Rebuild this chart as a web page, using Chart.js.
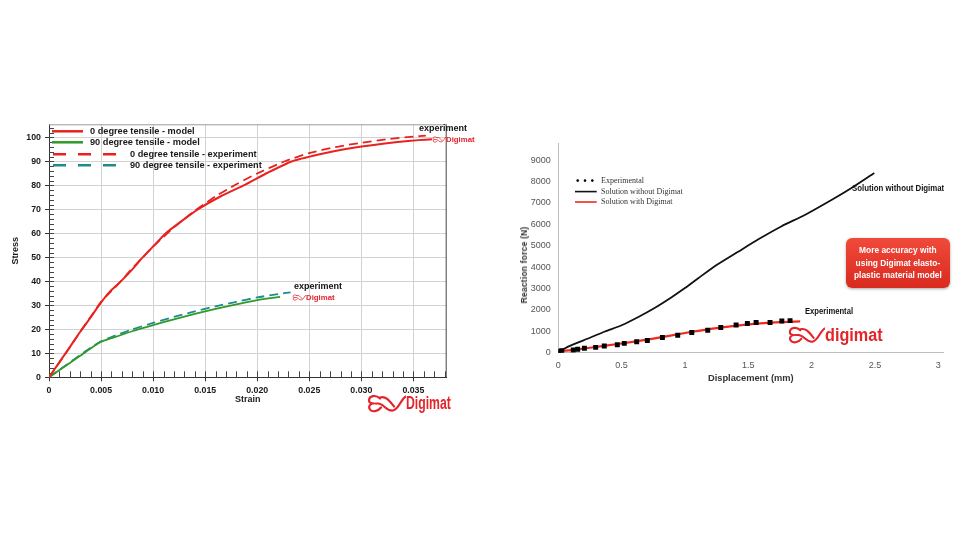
<!DOCTYPE html>
<html>
<head>
<meta charset="utf-8">
<script src="https://cdn.jsdelivr.net/npm/chart.js@4.4.1/dist/chart.umd.min.js"></script>
<style>
    body { margin: 0; background: #fff; }
    #wrap { position: relative; width: 980px; height: 560px; overflow: hidden; font-family: "Liberation Sans", Arial, sans-serif; }
    canvas { position: absolute; }
    .lbl { position: absolute; white-space: nowrap; font-weight: bold; color: #111; }
    .logo { position: absolute; white-space: nowrap; color: #e3242b; font-weight: bold; display: flex; align-items: center; }
    .logo svg { display: block; }
    .sq { display: inline-block; transform-origin: left center; }
    #note { position: absolute; left: 846px; top: 238px; width: 104px; height: 50px; border-radius: 6px;
        background: linear-gradient(#f04a3b, #d92a1f); box-shadow: 0 1px 3px rgba(0,0,0,.35);
        color: #fff; font-weight: bold; font-size: 9.5px; line-height: 12.7px; text-align: center; }
    #note span { display: inline-block; transform: scaleX(0.88); margin-top: 6px; }
    #rtitle { position: absolute; left: 524px; top: 265px; font-weight: bold; font-size: 8.5px; color: #333;
        transform: translate(-50%, -50%) rotate(-90deg); white-space: nowrap; letter-spacing: 0.2px; }
</style>
</head>
<body>
<div id="wrap">
    <canvas id="cStress" width="480" height="320" style="left:0;top:110px"></canvas>
    <canvas id="cForce" width="460" height="265" style="left:505px;top:130px"></canvas>

    <div class="lbl" style="left:294px;top:281px;font-size:9px">experiment</div>
    <div class="logo" style="left:292px;top:292px;font-size:7.8px"><svg width="14" height="11" viewBox="0 0 40 20"><path class="sw" d=""/></svg><span>Digimat</span></div>
    <div class="lbl" style="left:419px;top:123px;font-size:9px">experiment</div>
    <div class="logo" style="left:432px;top:134px;font-size:7.8px"><svg width="14" height="11" viewBox="0 0 40 20"><path class="sw" d=""/></svg><span>Digimat</span></div>
    <div class="logo" style="left:366px;top:393px;font-size:18px"><svg width="40" height="21" viewBox="0 0 40 20"><path class="sw" d=""/></svg><span class="sq" style="transform:scaleX(0.68)">Digimat</span></div>

    <div class="lbl" style="left:852px;top:183px;font-size:9px"><span class="sq" style="transform:scaleX(0.87)">Solution without Digimat</span></div>
    <div class="lbl" style="left:805px;top:306px;font-size:9px"><span class="sq" style="transform:scaleX(0.85)">Experimental</span></div>
    <div class="logo" style="left:787px;top:324px;font-size:18px;font-weight:bold"><svg width="38" height="22" viewBox="0 0 40 20"><path class="sw" d=""/></svg><span class="sq" style="transform:scaleX(0.9)">digimat</span></div>
    <div id="note"><span>More accuracy with<br>using Digimat elasto-<br>plastic material model</span></div>
    <div id="rtitle">Reaction force (N)</div>
</div>
<script>
// ---- left chart: stress vs strain ----
var strain0Model = [0, 0.001, 0.002, 0.003, 0.004, 0.0048, 0.0058, 0.0069, 0.0080, 0.0090, 0.0101, 0.0112, 0.0127, 0.0143, 0.0165, 0.0187, 0.0210, 0.0233, 0.0260, 0.0285, 0.0310, 0.0335, 0.0355, 0.0368];
var stress0Model = [0, 6.3, 12.6, 19, 25, 30, 35.5, 40, 45, 50, 55, 60, 65, 70, 75.5, 80, 85.3, 90, 93, 95.2, 96.8, 98.1, 98.9, 99.3];
var strain0Exp = [0, 0.001, 0.002, 0.003, 0.004, 0.005, 0.006, 0.007, 0.008, 0.009, 0.010, 0.011, 0.012, 0.013, 0.014, 0.015, 0.016, 0.018, 0.020, 0.0226, 0.025, 0.0275, 0.030, 0.0325, 0.035, 0.0362];
var stress0Exp = [0, 6.2, 12.5, 19, 25.2, 31.5, 36, 40.5, 45.5, 50, 54.5, 58.5, 62.5, 66, 69.5, 72.5, 75.5, 80.5, 85, 90, 93.5, 96, 97.8, 99.3, 100.4, 100.8];
var strain90Model = [0, 0.001, 0.002, 0.003, 0.004, 0.005, 0.006, 0.008, 0.010, 0.012, 0.014, 0.016, 0.018, 0.020, 0.0222];
var stress90Model = [0, 3, 6, 9, 12, 14.8, 16.3, 19.2, 21.8, 24.2, 26.4, 28.5, 30.4, 32.2, 33.5];
var strain90Exp = [0, 0.001, 0.002, 0.003, 0.004, 0.005, 0.006, 0.008, 0.010, 0.012, 0.014, 0.016, 0.018, 0.020, 0.022, 0.0232];
var stress90Exp = [0, 3.1, 6.2, 9.3, 12.3, 15, 16.8, 20, 22.7, 25.2, 27.5, 29.6, 31.5, 33.3, 34.7, 35.4];
var stressLegend = ["0 degree tensile - model", "90 degree tensile - model", "0 degree tensile - experiment", "90 degree tensile - experiment"];
var strainStep = 0.005, strainMinor = 0.001, stressStep = 10, stressMinor = 2;

// ---- right chart: reaction force vs displacement ----
var dispNoDigimat = [0, 0.05, 0.105, 0.25, 0.368, 0.5, 0.632, 0.75, 0.895, 1.0, 1.105, 1.25, 1.42, 1.58, 1.76, 1.95, 2.16, 2.315, 2.495];
var forceNoDigimat = [0, 200, 355, 700, 990, 1281, 1667, 2052, 2593, 3020, 3480, 4100, 4720, 5300, 5900, 6450, 7150, 7700, 8400];
var dispDigimat = [0, 0.1, 0.25, 0.5, 0.75, 1.0, 1.25, 1.5, 1.75, 1.91];
var forceDigimat = [60, 120, 230, 430, 660, 920, 1150, 1320, 1430, 1460];
var dispExp = [0.005, 0.027, 0.118, 0.153, 0.206, 0.295, 0.363, 0.466, 0.521, 0.619, 0.703, 0.822, 0.943, 1.054, 1.18, 1.283, 1.404, 1.493, 1.562, 1.672, 1.765, 1.83];
var forceExp = [65, 93, 125, 157, 204, 250, 310, 370, 435, 510, 574, 713, 820, 944, 1050, 1175, 1296, 1360, 1407, 1407, 1481, 1500];
var forceLegend = ["Experimental", "Solution without Digimat", "Solution with Digimat"];
var forceTicks = [0, 1000, 2000, 3000, 4000, 5000, 6000, 7000, 8000, 9000];
var dispTicks = [0, 0.5, 1, 1.5, 2, 2.5, 3];

var RED = "#e8231f", GREEN = "#2f9a2a", TEAL = "#1e8c8a";

function pts(xs, ys) {
    return xs.map(function(x, i) { return {x: x, y: ys[i]}; });
}

function fixedTicks(list) {
    return function(scale) {
        scale.ticks = list.map(function(v) { return {value: v}; });
    };
}

// swoosh logo path
document.querySelectorAll("path.sw").forEach(function(p) {
    p.setAttribute("d", "M14 5 C10 1 3 2 3 7 C3 9 5 10 8 10 C4 10 2 13 4 16 C6 19 12 18 15 14 M9 10 L12 10 C18 10 20 18 27 17 C33 16 35 5 40 3 M14 4 C20 2 24 8 28 13");
    p.setAttribute("fill", "none");
    p.setAttribute("stroke", "#e3242b");
    p.setAttribute("stroke-width", "2.2");
    p.setAttribute("stroke-linecap", "round");
});

Chart.defaults.font.family = '"Liberation Sans", Arial, sans-serif';

var stressDecor = {
    id: "stressDecor",
    beforeDatasetsDraw: function(chart) {
        var ctx = chart.ctx, a = chart.chartArea, x = chart.scales.x, y = chart.scales.y;
        ctx.save();
        ctx.lineWidth = 1;
        ctx.strokeStyle = "#9a9a9a";
        ctx.beginPath();
        ctx.moveTo(a.left, a.top + 0.5); ctx.lineTo(a.right, a.top + 0.5);
        ctx.stroke();
        ctx.strokeStyle = "#444";
        ctx.beginPath();
        ctx.moveTo(a.right - 0.5, a.top); ctx.lineTo(a.right - 0.5, a.bottom);
        for (var v = 0; v <= y.max; v += stressMinor) {
            var py = Math.round(y.getPixelForValue(v)) + 0.5;
            ctx.moveTo(a.left, py); ctx.lineTo(a.left + 5, py);
        }
        for (var i = 0; i * strainMinor <= x.max; i++) {
            var px = Math.round(x.getPixelForValue(i * strainMinor)) + 0.5;
            ctx.moveTo(px, a.bottom); ctx.lineTo(px, a.bottom - 6);
        }
        ctx.stroke();
        ctx.restore();
    },
    afterDatasetsDraw: function(chart) {
        var ctx = chart.ctx, a = chart.chartArea;
        var rows = [
            {ds: 0, x0: 3, x1: 34, tx: 41, dy: 7},
            {ds: 1, x0: 3, x1: 34, tx: 41, dy: 18},
            {ds: 2, x0: 4, x1: 74, tx: 81, dy: 30},
            {ds: 3, x0: 4, x1: 74, tx: 81, dy: 41}
        ];
        ctx.save();
        ctx.font = "bold 9.2px 'Liberation Sans', Arial, sans-serif";
        ctx.textBaseline = "middle";
        ctx.fillStyle = "#1a1a1a";
        rows.forEach(function(r) {
            var ds = chart.data.datasets[r.ds];
            var yy = a.top + r.dy;
            ctx.strokeStyle = ds.borderColor;
            ctx.lineWidth = 2.5;
            ctx.setLineDash(ds.borderDash ? [13, 12] : []);
            ctx.beginPath();
            ctx.moveTo(a.left + r.x0, yy); ctx.lineTo(a.left + r.x1, yy);
            ctx.stroke();
            ctx.fillText(stressLegend[r.ds], a.left + r.tx, yy);
        });
        ctx.restore();
    }
};

new Chart(document.getElementById("cStress"), {
    type: "line",
    data: {
        datasets: [
            {data: pts(strain0Model, stress0Model), borderColor: RED, borderWidth: 2},
            {data: pts(strain90Model, stress90Model), borderColor: GREEN, borderWidth: 1.8},
            {data: pts(strain0Exp, stress0Exp), borderColor: RED, borderWidth: 1.8, borderDash: [9, 5]},
            {data: pts(strain90Exp, stress90Exp), borderColor: TEAL, borderWidth: 1.8, borderDash: [9, 5]}
        ]
    },
    options: {
        responsive: false,
        animation: false,
        devicePixelRatio: 1,
        elements: {point: {radius: 0}, line: {tension: 0.2}},
        layout: {padding: {left: 0, top: 14.3, right: 33.3, bottom: 0}},
        plugins: {legend: {display: false}, tooltip: {enabled: false}},
        scales: {
            x: {
                type: "linear", min: 0, max: 0.0382,
                afterFit: function(s) { s.height = 52.7; },
                border: {color: "#333"},
                grid: {color: "#d2d2d2", tickLength: 4, tickColor: "#333"},
                ticks: {
                    stepSize: strainStep, includeBounds: false, padding: 4, maxRotation: 0,
                    color: "#1a1a1a", font: {size: 8.8, weight: "bold"},
                    callback: function(v) { return v === 0 ? "0" : v.toFixed(3); }
                },
                title: {display: true, text: "Strain", color: "#1a1a1a", font: {size: 9, weight: "bold"}, padding: {top: 0, bottom: 24.6}}
            },
            y: {
                min: 0, max: 105.5,
                afterFit: function(s) { s.width = 49; },
                border: {color: "#333"},
                grid: {color: "#d2d2d2", tickLength: 4, tickColor: "#333"},
                ticks: {stepSize: stressStep, includeBounds: false, padding: 4, color: "#1a1a1a", font: {size: 8.8, weight: "bold"}},
                title: {display: true, text: "Stress", color: "#1a1a1a", font: {size: 9, weight: "bold"}, padding: {top: 10.6, bottom: 0}}
            }
        }
    },
    plugins: [stressDecor]
});

var forceLegendPlugin = {
    id: "forceLegend",
    afterDatasetsDraw: function(chart) {
        var ctx = chart.ctx, a = chart.chartArea;
        var ds = chart.data.datasets;
        var rows = [37.6, 48.6, 59];
        ctx.save();
        ctx.font = "8px 'Liberation Serif', 'Times New Roman', serif";
        ctx.textBaseline = "middle";
        // experimental: three dots
        ctx.fillStyle = ds[0].backgroundColor;
        [19.4, 26.7, 34].forEach(function(dx) {
            ctx.beginPath(); ctx.arc(a.left + dx, a.top + rows[0], 1.3, 0, Math.PI * 2); ctx.fill();
        });
        [1, 2].forEach(function(k) {
            ctx.strokeStyle = ds[k].borderColor;
            ctx.lineWidth = 1.6;
            ctx.beginPath();
            ctx.moveTo(a.left + 16.7, a.top + rows[k]); ctx.lineTo(a.left + 38.4, a.top + rows[k]);
            ctx.stroke();
        });
        ctx.fillStyle = "#333";
        forceLegend.forEach(function(t, k) { ctx.fillText(t, a.left + 42.7, a.top + rows[k]); });
        ctx.restore();
    }
};

new Chart(document.getElementById("cForce"), {
    type: "line",
    data: {
        datasets: [
            {data: pts(dispExp, forceExp), showLine: false, pointStyle: "rect", pointRadius: 3.5,
             backgroundColor: "#000", borderColor: "#000", borderWidth: 0},
            {data: pts(dispNoDigimat, forceNoDigimat), borderColor: "#111", borderWidth: 1.8, pointRadius: 0},
            {data: pts(dispDigimat, forceDigimat), borderColor: "#ee2a1e", borderWidth: 2.2, pointRadius: 0}
        ]
    },
    options: {
        responsive: false,
        animation: false,
        devicePixelRatio: 1,
        elements: {line: {tension: 0.25}},
        layout: {padding: {left: 0, top: 11.7, right: 21.7, bottom: 0}},
        plugins: {legend: {display: false}, tooltip: {enabled: false}},
        scales: {
            x: {
                type: "linear", min: 0, max: 3.04,
                afterFit: function(s) { s.height = 42.3; },
                afterBuildTicks: fixedTicks(dispTicks),
                border: {color: "#bdbdbd"},
                grid: {display: false, drawTicks: false},
                ticks: {padding: 7, maxRotation: 0, autoSkip: false, color: "#555", font: {size: 9},
                        callback: function(v) { return String(v); }},
                title: {display: true, text: "Displacement (mm)", color: "#333", font: {size: 9.3, weight: "bold"}, padding: {top: 0, bottom: 11.4}}
            },
            y: {
                min: 0, max: 9800,
                afterFit: function(s) { s.width = 53.3; },
                afterBuildTicks: fixedTicks(forceTicks),
                border: {color: "#bdbdbd"},
                grid: {display: false, drawTicks: false},
                ticks: {padding: 7.6, autoSkip: false, color: "#555", font: {size: 9},
                        callback: function(v) { return String(v); }}
            }
        }
    },
    plugins: [forceLegendPlugin]
});
</script>
</body>
</html>
